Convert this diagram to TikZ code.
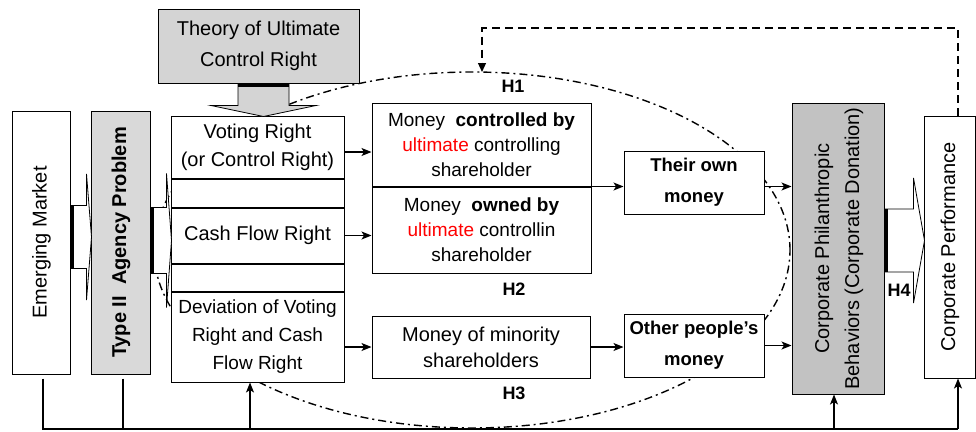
\documentclass[tikz,border=0pt]{standalone}
\usepackage{fontspec}
\setmainfont{Liberation Sans}
\usetikzlibrary{arrows.meta, positioning, calc}
\definecolor{grayAgency}{HTML}{D9D9D9}
\definecolor{grayTheory}{HTML}{D4D4D4}
\definecolor{grayPhil}{HTML}{C2C2C2}
\newcommand{\vtext}[1]{\rotatebox{90}{\begin{tabular}{@{}c@{}}#1\end{tabular}}}
\tikzset{
  boxW/.style={rectangle, draw=black, fill=white, line width=1pt, align=center,
               inner sep=2pt, font=\fontsize{19}{25}\selectfont},
  boxG/.style={boxW, fill=grayAgency},
  boxMoney/.style={boxW, minimum width=140pt, minimum height=63pt,
                   font=\bfseries\fontsize{18.5}{31}\selectfont},
  colBox/.style={boxW, minimum width=173pt},
  hLabel/.style={font=\bfseries\fontsize{18}{20}\selectfont, inner sep=0pt},
  arr/.style={-{Stealth[length=10pt, width=8pt, inset=2.5pt]}, line width=1.2pt},
  arrD/.style={-{Triangle[length=9pt, width=8pt]}, line width=1.2pt, dash pattern=on 8pt off 5pt},
  ellDash/.style={line width=1.4pt, dash pattern=on 8pt off 4pt on 2pt off 4pt},
  pics/fatArrow/.style args={#1/#2/#3/#4/#5}{code={
    \draw[fill=#5, line width=0.8pt] (0,-#2) -- (#1-#4,-#2) -- (#1-#4,-#3) -- (#1,0)
      -- (#1-#4,#3) -- (#1-#4,#2) -- (0,#2) -- cycle;
    \draw[line width=3.5pt] (1.75,-#2) -- (1.75,#2);
  }},
}

\begin{document}
\begin{tikzpicture}[x=1pt, y=-1pt]
  \useasboundingbox (0,0) rectangle (976,431);
  \draw[ellDash] (472,250) ellipse [x radius=318pt, y radius=178pt];

  \node[boxW, minimum width=58pt, minimum height=263pt, font=\fontsize{20}{28}\selectfont]
        (em) at (41,242.5) {\vtext{Emerging Market}};
  \node[boxG, minimum width=59pt, minimum height=263pt, font=\bfseries\fontsize{20}{28}\selectfont]
        (agency) at (120.5,242.5) {\vtext{Type II~ Agency Problem}};
  \node[boxG, fill=grayTheory, minimum width=201pt, minimum height=74pt, font=\fontsize{20}{31}\selectfont]
        (theory) at (258.5,46) {Theory of Ultimate\\Control Right};

  \node[colBox, minimum height=62pt, font=\fontsize{20}{28}\selectfont]
        (vote) at (257.5,147) {Voting Right\\(or Control Right)};
  \node[colBox, minimum height=28pt, below=0pt of vote] (gapA) {};
  \node[colBox, minimum height=55pt, below=0pt of gapA, font=\fontsize{20}{28}\selectfont]
        (cash) {Cash Flow Right};
  \node[colBox, minimum height=27pt, below=0pt of cash] (gapB) {};
  \node[colBox, minimum height=90pt, below=0pt of gapB, font=\fontsize{19}{28}\selectfont]
        (dev) {Deviation of Voting\\Right and Cash\\Flow Right};

  \node[boxW, minimum width=219pt, minimum height=83pt] (ctrl) at (481.5,144.5)
        {Money~ \textbf{controlled by}\\\textcolor{red}{ultimate} controlling\\shareholder};
  \node[boxW, minimum width=219pt, minimum height=86pt, below=0pt of ctrl] (own)
        {Money~ \textbf{owned by}\\\textcolor{red}{ultimate} controllin\\shareholder};
  \node[boxW, minimum width=218pt, minimum height=62pt, font=\fontsize{20}{26}\selectfont]
        (minor) at (481,347) {Money of minority\\shareholders};

  \node[boxMoney] (their) at (694,182.5) {Their own\\money};
  \node[boxMoney] (other) at (694,345.5) {Other people’s\\money};

  \node[boxG, fill=grayPhil, minimum width=92pt, minimum height=291pt, font=\fontsize{20}{30}\selectfont]
        (phil) at (838,248.5) {\vtext{Corporate Philanthropic\\Behaviors (Corporate Donation)}};
  \node[boxW, minimum width=51pt, minimum height=262pt, font=\fontsize{20}{28}\selectfont]
        (perf) at (949.5,247) {\vtext{Corporate Performance}};

  \pic (emArr) at ([yshift=5.5pt]em.east) {fatArrow=21/31.5/63/5/white};
  \pic (agArr) at ([yshift=2pt]agency.east) {fatArrow=21/33/67/5/white};
  \pic[rotate=-90] (thArr) at ([xshift=5pt]theory.south) {fatArrow=33/25.5/52.5/11/grayTheory};
  \pic (hArr) at ([yshift=8pt]phil.east) {fatArrow=40/31.5/62.5/11/white};

  \node[hLabel] (h1) at (513,86) {H1};
  \node[hLabel] (h2) at (514,289) {H2};
  \node[hLabel] (h3) at (514,393) {H3};
  \node[hLabel] (h4) at (899,290) {H4};

  \draw[arr] ([yshift=-5pt]vote.east) -- ([yshift=-5pt]vote.east -| ctrl.west);
  \draw[arr] (cash.east) -- (cash.east -| own.west);
  \draw[arr] (dev.east |- minor.west) -- (minor.west);
  \draw[arr] (ctrl.south east) -- (ctrl.south east -| their.west);
  \draw[arr] (ctrl.south east -| their.east) -- (ctrl.south east -| phil.west);
  \draw[arr] (minor.east) -- (minor.east -| other.west);
  \draw[arr] (other.east) -- (other.east -| phil.west);

  \coordinate (h1top) at (482,72);
  \draw[arrD] ([xshift=8.5pt]perf.north) |- ([yshift=44pt]h1top) -- (h1top);

  \coordinate (base) at (0,429);
  \draw[line width=1.2pt] ([xshift=2pt,yshift=-4pt]em.south) -- ([xshift=2pt]em.south |- base)
        -- ([xshift=8.5pt]perf.south |- base);
  \draw[line width=1.2pt] ([xshift=2.5pt,yshift=-4pt]agency.south) -- ([xshift=2.5pt]agency.south |- base);
  \draw[arr] ([xshift=-7.5pt]dev.south |- base) -- ([xshift=-7.5pt]dev.south);
  \draw[arr] ([xshift=-4pt]phil.south |- base) -- ([xshift=-4pt]phil.south);
  \draw[arr] ([xshift=8.5pt]perf.south |- base) -- ([xshift=8.5pt]perf.south);
\end{tikzpicture}
\end{document}
